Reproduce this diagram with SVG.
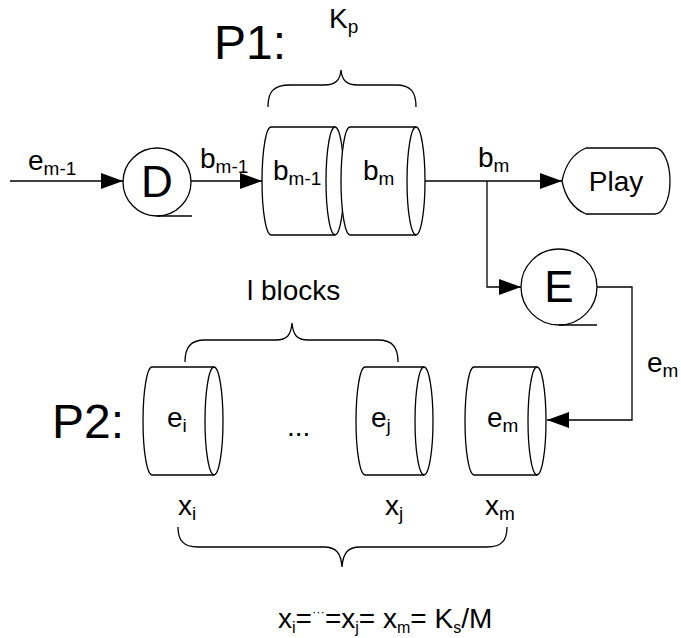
<svg xmlns="http://www.w3.org/2000/svg" width="681" height="638" viewBox="0 0 681 638">
<style>
text { font-family: "Liberation Sans", Arial, sans-serif; fill: #000; }
.big { font-size: 48px; }
.node { font-size: 44px; }
.lbl { font-size: 28px; }
.sub { font-size: 19px; }
.shape { fill: #fff; stroke: #000; stroke-width: 1.3; }
.ln { fill: none; stroke: #000; stroke-width: 1.3; }
</style>
<defs>
<marker id="arr" viewBox="0 0 22 16" refX="22" refY="8" markerWidth="22" markerHeight="16" orient="auto" markerUnits="userSpaceOnUse">
<path d="M0,0 L22,8 L0,16 z" fill="#000"/>
</marker>
</defs>
<rect width="681" height="638" fill="#fff"/>

<g id="connectors">
<path class="ln" d="M10 181 L123 181" marker-end="url(#arr)"/>
<path class="ln" d="M191 181 L262 181" marker-end="url(#arr)"/>
<path class="ln" d="M425 181 L562 181" marker-end="url(#arr)"/>
<path class="ln" d="M487 181 L487 287 L521 287" marker-end="url(#arr)"/>
<path class="ln" d="M597 287 L632 287 L632 420 L547 420" marker-end="url(#arr)"/>
</g>

<g id="labels">
<text class="big" x="214" y="59">P1:</text>
<text class="lbl" x="329" y="28" font-size="26">K<tspan class="sub" dy="5">p</tspan></text>
<path class="ln" d="M268 107 C268 92 273 85 290 85 L324 85 C336 85 340 80 341 70 C342 80 346 85 358 85 L396 85 C411 85 416 92 416 107"/>
<text class="lbl" x="28" y="170">e<tspan class="sub" dy="5">m-1</tspan></text>
<text class="lbl" x="200" y="168">b<tspan class="sub" dy="5">m-1</tspan></text>
<text class="lbl" x="478" y="167">b<tspan class="sub" dy="5">m</tspan></text>
<text class="lbl" x="647" y="372">e<tspan class="sub" dy="5">m</tspan></text>
<text class="lbl" x="247" y="300" font-size="30">l blocks</text>
<path class="ln" d="M185 362 C185 348 190 340 205 340 L276 340 C287 340 291 335 292 323 C293 335 297 340 308 340 L378 340 C393 340 398 348 398 362"/>
<text class="big" x="52" y="438">P2:</text>
<text class="lbl" x="287" y="436">...</text>
<text class="lbl" x="178" y="515">x<tspan class="sub" dy="5">i</tspan></text>
<text class="lbl" x="385" y="515">x<tspan class="sub" dy="5">j</tspan></text>
<text class="lbl" x="485" y="515">x<tspan class="sub" dy="5">m</tspan></text>
<path class="ln" d="M178 527 C178 540 183 547 198 547 L324 547 C336 547 341 553 342 567 C343 553 348 547 360 547 L487 547 C502 547 507 540 507 527"/>
<text class="lbl" x="278" y="628" font-size="25">x<tspan font-size="16" dy="5">i</tspan><tspan dy="-5">=</tspan><tspan font-size="13" dy="-12">···</tspan><tspan dy="12">=x</tspan><tspan font-size="16" dy="5">j</tspan><tspan dy="-5">= x</tspan><tspan font-size="16" dy="5">m</tspan><tspan dy="-5">= K</tspan><tspan font-size="16" dy="5">s</tspan><tspan dy="-5">/M</tspan></text>
</g>

<g id="node-D">
<circle class="shape" cx="157" cy="182" r="34"/>
<path class="ln" d="M157 216 L192 216"/>
<text class="node" x="157" y="197" text-anchor="middle">D</text>
</g>

<g id="node-bm1">
<path class="shape" d="M271 127 L335 127 A9 54 0 0 1 335 235 L271 235 A9 54 0 0 1 271 127 Z"/>
<path class="ln" d="M335 127 A9 54 0 0 0 335 235"/>
<text class="lbl" x="273" y="180">b<tspan class="sub" dy="5">m-1</tspan></text>
</g>

<g id="node-bm">
<path class="shape" d="M350 127 L416 127 A9 54 0 0 1 416 235 L350 235 A9 54 0 0 1 350 127 Z"/>
<path class="ln" d="M416 127 A9 54 0 0 0 416 235"/>
<text class="lbl" x="363" y="180">b<tspan class="sub" dy="5">m</tspan></text>
</g>

<g id="node-play">
<path class="shape" d="M586 148 L655 148 A15 33 0 0 1 655 214 L586 214 Q567 206 562 181 Q567 156 586 148 Z"/>
<text class="lbl" x="616" y="191" font-size="31" text-anchor="middle">Play</text>
</g>

<g id="node-E">
<circle class="shape" cx="559" cy="287" r="38"/>
<path class="ln" d="M559 325 L597 325"/>
<text class="node" x="559" y="302" text-anchor="middle">E</text>
</g>

<g id="node-ei">
<path class="shape" d="M152 367 L214 367 A9 54 0 0 1 214 475 L152 475 A9 54 0 0 1 152 367 Z"/>
<path class="ln" d="M214 367 A9 54 0 0 0 214 475"/>
<text class="lbl" x="167" y="427">e<tspan class="sub" dy="5">i</tspan></text>
</g>

<g id="node-ej">
<path class="shape" d="M365 367 L424 367 A9 54 0 0 1 424 475 L365 475 A9 54 0 0 1 365 367 Z"/>
<path class="ln" d="M424 367 A9 54 0 0 0 424 475"/>
<text class="lbl" x="371" y="427">e<tspan class="sub" dy="5">j</tspan></text>
</g>

<g id="node-em">
<path class="shape" d="M474 367 L537 367 A9 54 0 0 1 537 475 L474 475 A9 54 0 0 1 474 367 Z"/>
<path class="ln" d="M537 367 A9 54 0 0 0 537 475"/>
<text class="lbl" x="487" y="427">e<tspan class="sub" dy="5">m</tspan></text>
</g>
</svg>
